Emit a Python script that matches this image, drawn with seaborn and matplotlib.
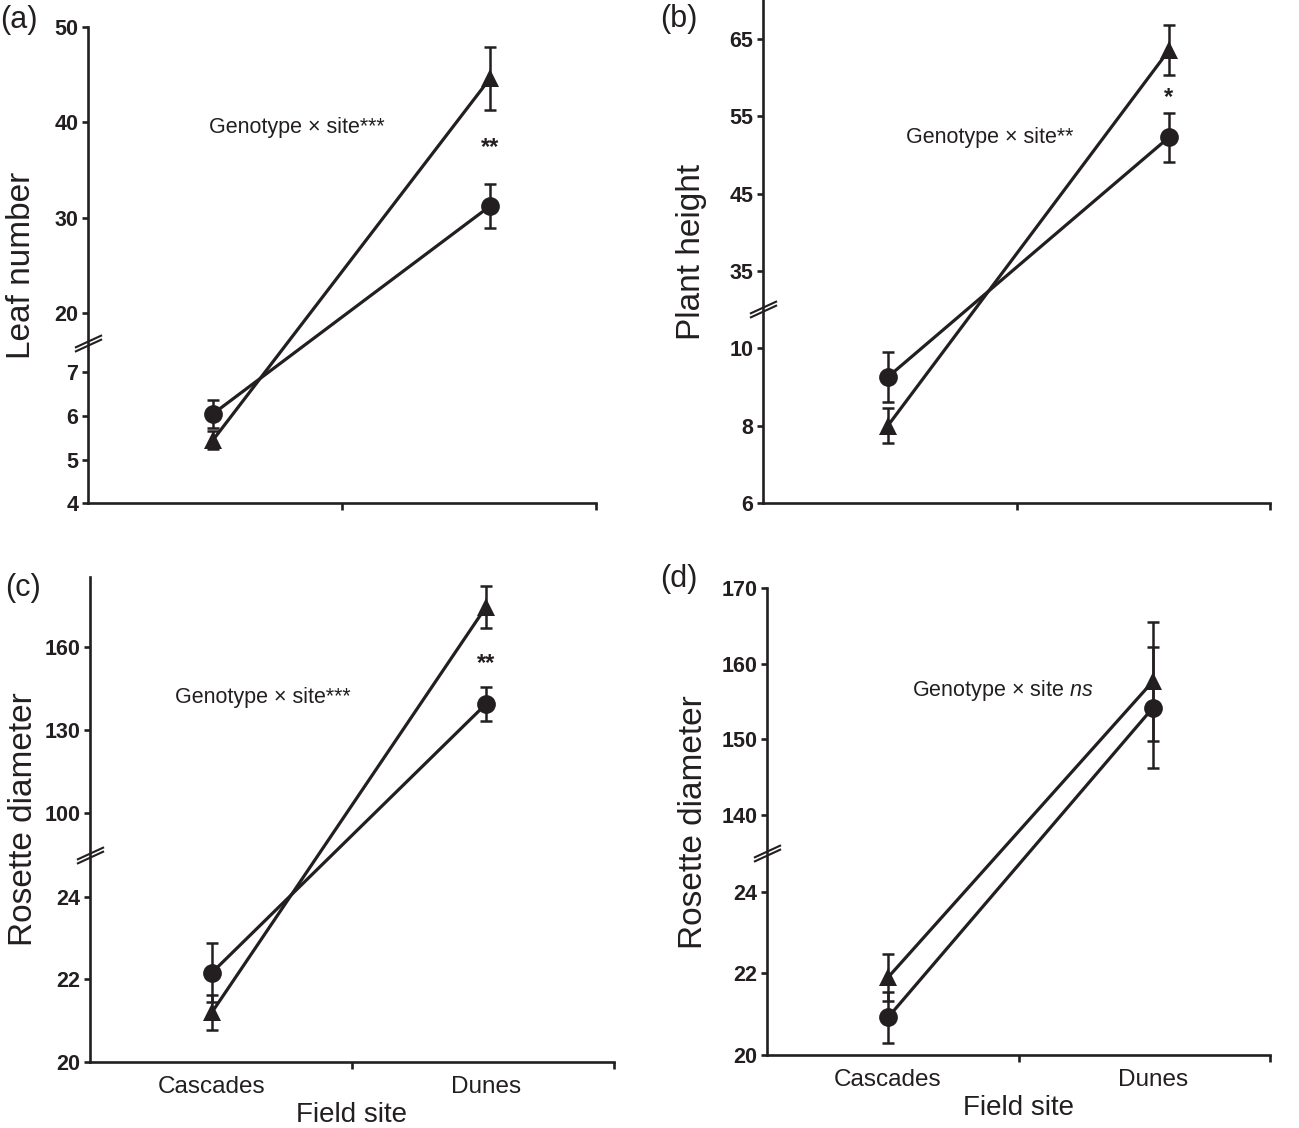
import numpy as np
import pandas as pd
import seaborn as sns
import matplotlib.pyplot as plt
from matplotlib.path import Path

sns.set_style('ticks')
plt.rcParams['font.family'] = ['Liberation Sans', 'DejaVu Sans']
plt.rcParams['mathtext.fontset'] = 'custom'
plt.rcParams['mathtext.rm'] = 'Liberation Sans'
plt.rcParams['mathtext.it'] = 'Liberation Sans:italic'

INK = '#231f20'

sites = ['Cascades', 'Dunes']
site_x = [0, 1]

# means and standard errors (circle / triangle genotype)
leaf_circle = [6.05, 31.2]
leaf_circle_se = [0.32, 2.3]
leaf_triangle = [5.45, 44.6]
leaf_triangle_se = [0.2, 3.3]

height_circle = [9.25, 52.3]
height_circle_se = [0.65, 3.2]
height_triangle = [8.0, 63.6]
height_triangle_se = [0.45, 3.25]

rosette1_circle = [22.16, 139.5]
rosette1_circle_se = [0.71, 6.1]
rosette1_triangle = [21.2, 174.6]
rosette1_triangle_se = [0.42, 7.6]

rosette2_circle = [20.92, 154.2]
rosette2_circle_se = [0.62, 8.0]
rosette2_triangle = [21.9, 157.7]
rosette2_triangle_se = [0.58, 7.9]

leaf_ticks = [4, 5, 6, 7, 20, 30, 40, 50]
height_ticks = [6, 8, 10, 35, 45, 55, 65]
rosette1_ticks = [20, 22, 24, 100, 130, 160]
rosette2_ticks = [20, 22, 24, 140, 150, 160, 170]

W, H = 1299, 1128


def broken_scale(dk, pk):
    dk = np.asarray(dk, float)
    pk = np.asarray(pk, float)

    def piece(v, a, b):
        v = np.asarray(v, float)
        out = np.interp(v, a, b)
        lo_slope = (b[1] - b[0]) / (a[1] - a[0])
        hi_slope = (b[-1] - b[-2]) / (a[-1] - a[-2])
        out = np.where(v < a[0], b[0] + (v - a[0]) * lo_slope, out)
        out = np.where(v > a[-1], b[-1] + (v - a[-1]) * hi_slope, out)
        return out

    return (lambda v: piece(v, dk, pk)), (lambda y: piece(y, pk, dk))


# two slashes for the axis break
slash = Path([(-1, -0.31), (1, 0.61), (-1, -0.61), (1, 0.31)],
             [Path.MOVETO, Path.LINETO, Path.MOVETO, Path.LINETO])


def panel(rect, xs, knots_d, knots_p, ylim, circ, circ_se, tri, tri_se,
          ticks, ylabel, ylab_x, letter, letter_xy, note, note_xy,
          stars=None, bottom=False):
    x0, x1, ytop, ybot = rect
    ax = fig.add_axes([x0 / W, 1 - ybot / H, (x1 - x0) / W, (ybot - ytop) / H])
    fwd, inv = broken_scale(knots_d, knots_p)
    ax.set_yscale('function', functions=(fwd, inv))

    df = pd.DataFrame({
        'x': site_x * 2,
        'value': circ + tri,
        'genotype': ['circle'] * 2 + ['triangle'] * 2,
    })
    sns.lineplot(data=df, x='x', y='value', style='genotype',
                 markers={'circle': 'o', 'triangle': '^'}, dashes=False,
                 color=INK, lw=2.3, markersize=13.5, markeredgewidth=0,
                 estimator=None, legend=False, ax=ax, zorder=3)
    for m, s in [(circ, circ_se), (tri, tri_se)]:
        ax.errorbar(site_x, m, yerr=s, fmt='none', ecolor=INK,
                    elinewidth=1.8, capsize=4.5, capthick=1.8, zorder=2)

    cx, dx = xs
    span = dx - cx
    xl = (-(cx - x0) / span, 1 + (x1 - dx) / span)
    ax.set_xlim(xl)
    ax.set_ylim(ylim)

    ax.set_yticks(ticks)
    ax.set_yticklabels([str(t) for t in ticks], fontweight='bold', fontsize=15.5)
    ax.yaxis.set_minor_locator(plt.NullLocator())
    ax.tick_params(axis='y', length=4.5, width=1.9, pad=2.5, colors=INK)
    ax.set_xticks(site_x)
    ax.set_xticklabels(sites if bottom else ['', ''], fontsize=17.5)
    ax.set_xticks([(xl[0] + xl[1]) / 2, xl[1]], minor=True)
    ax.tick_params(axis='x', which='major', length=0, pad=10, colors=INK)
    ax.tick_params(axis='x', which='minor', length=5, width=1.9, colors=INK)

    sns.despine(ax=ax)
    for s in ['left', 'bottom']:
        ax.spines[s].set_linewidth(1.9)
        ax.spines[s].set_color(INK)

    ax.set_ylabel(ylabel, fontsize=24, color=INK)
    ax.yaxis.set_label_coords(ylab_x, 0.5)
    if bottom:
        ax.set_xlabel('Field site', fontsize=20, color=INK, labelpad=3)
    else:
        ax.set_xlabel('')

    # break marks, centred in the gap between the two segments
    hgt = ybot - ytop
    ax.plot([0], [(knots_p[1] + knots_p[2]) / 2 / hgt], marker=slash, ms=19.5,
            mew=1.5, mec=INK, ls='none', transform=ax.transAxes, clip_on=False)

    fig.text(letter_xy[0] / W, 1 - letter_xy[1] / H, letter, fontsize=22,
             color=INK, ha='left', va='center')
    ax.text(note_xy[0], note_xy[1], note, transform=ax.transAxes, fontsize=15.5,
            color=INK, ha='center', va='center')
    if stars:
        ax.text(1, stars[1], stars[0], fontsize=17, fontweight='bold',
                color=INK, ha='center', va='center')
    return ax


fig = plt.figure(figsize=(W / 100, H / 100), dpi=100)

panel((88, 596, 27, 503.3), (213, 490), [4, 7, 20, 50], [0, 131, 190.6, 476.6],
      (4, 50), leaf_circle, leaf_circle_se, leaf_triangle, leaf_triangle_se,
      leaf_ticks, 'Leaf number', -0.1, '(a)', (0, 20),
      'Genotype \u00d7 site***', (0.411, 0.788), stars=('**', 37.3))

panel((763, 1270, 0, 503.3), (888, 1169), [6, 10, 35, 65], [0, 155.6, 232.6, 464],
      (6, 70.1), height_circle, height_circle_se, height_triangle, height_triangle_se,
      height_ticks, 'Plant height', -0.11, '(b)', (660, 19),
      'Genotype \u00d7 site**', (0.448, 0.726), stars=('*', 57.5))

panel((90, 614, 577, 1061.7), (212, 486), [20, 24, 100, 160], [0, 165, 248.4, 414.4],
      (20, 185.4), rosette1_circle, rosette1_circle_se, rosette1_triangle,
      rosette1_triangle_se, rosette1_ticks, 'Rosette diameter', -0.097, '(c)', (5, 588),
      'Genotype \u00d7 site***', (0.33, 0.752), stars=('**', 154.3), bottom=True)

panel((767, 1270, 588.3, 1055), (888, 1153), [20, 24, 140, 170], [0, 163.3, 240, 466.7],
      (20, 170), rosette2_circle, rosette2_circle_se, rosette2_triangle,
      rosette2_triangle_se, rosette2_ticks, 'Rosette diameter', -0.115, '(d)', (660, 579),
      'Genotype \u00d7 site $\\mathit{ns}$', (0.469, 0.782), bottom=True)

fig.savefig('out.png', dpi=100)
